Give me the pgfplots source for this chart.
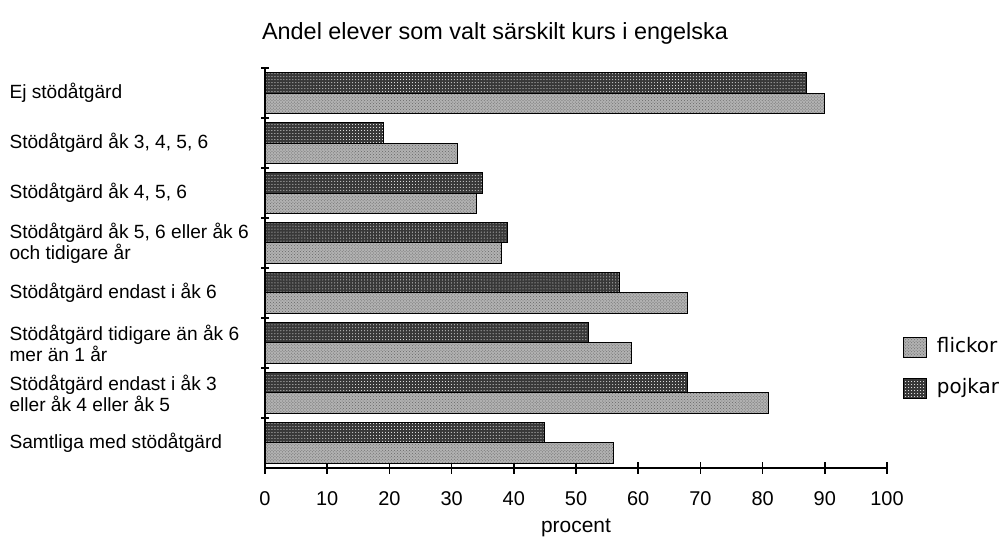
\documentclass[border=0pt]{standalone}
\usepackage{fontspec}
\setmainfont{Liberation Sans}
\newfontfamily\dejavu{DejaVu Sans}
\usepackage{pgfplots}
\pgfplotsset{compat=1.18}
\usetikzlibrary{patterns}

\begin{document}
\begin{tikzpicture}[x=1bp,y=1bp]
\path[use as bounding box] (0,0) rectangle (1008,537);
\node[font=\fontsize{23.5}{27}\selectfont] at (495,504) {Andel elever som valt särskilt kurs i engelska};
\begin{axis}[
  at={(265bp,69bp)}, anchor=south west,
  scale only axis, width=622bp, height=400bp,
  xmin=0, xmax=100, ymin=0.5, ymax=8.5, y dir=reverse,
  axis x line*=bottom, axis y line*=left,
  axis line style={line width=1.5bp, black},
  xbar, bar width=0.41,
  xtick={0,10,...,100},
  ytick={1,...,8},
  yticklabels={Ej stödåtgärd, {Stödåtgärd åk 3, 4, 5, 6}, {Stödåtgärd åk 4, 5, 6}, {Stödåtgärd åk 5, 6 eller åk 6\\och tidigare år}, {Stödåtgärd endast i åk 6}, {Stödåtgärd tidigare än åk 6\\mer än 1 år}, {Stödåtgärd endast i åk 3\\eller åk 4 eller åk 5}, {Samtliga med stödåtgärd}},
  minor ytick={0.5,1.5,...,7.5},
  major y tick style={draw=none},
  minor y tick style={draw=black, line width=1.5bp},
  major x tick style={draw=black, line width=1.5bp},
  tick align=center,
  major tick length=12bp,
  minor tick length=8bp,
  yticklabel style={anchor=west, align=left, xshift=-253bp, font=\fontsize{19.2}{21}\selectfont},
  xticklabel style={anchor=center, yshift=-25bp, font=\fontsize{20}{22}\selectfont},
  /pgf/number format/assume math mode=true,
  xlabel={procent},
  x label style={at={(axis description cs:0.5,-0.15)}, anchor=center, font=\fontsize{21}{24}\selectfont},
  legend style={at={(axis description cs:1.0257,0.33)}, anchor=north west, draw=none, fill=none,
    font=\dejavu\fontsize{20}{24}\selectfont, row sep=19bp, inner sep=0pt,
    nodes={inner sep=2bp, text height=14bp, text depth=4bp}},
  legend cell align=left,
  reverse legend,
  legend image code/.code={\draw[#1, draw=black, line width=0.8bp] (0bp,-10bp) rectangle (23bp,10bp);},
]
\addplot[draw=black, line width=1bp, fill=black!78, postaction={pattern=dots, pattern color=white}, bar shift=-0.205]
  coordinates {(87,1) (19,2) (35,3) (39,4) (57,5) (52,6) (68,7) (45,8)};
\addplot[draw=black, line width=1bp, fill=black!30, postaction={pattern=crosshatch dots, pattern color=black!60}, bar shift=0.205]
  coordinates {(90,1) (31,2) (34,3) (38,4) (68,5) (59,6) (81,7) (56,8)};
\legend{\hspace{8bp}pojkar, \hspace{8bp}flickor}
\end{axis}
\end{tikzpicture}
\end{document}
